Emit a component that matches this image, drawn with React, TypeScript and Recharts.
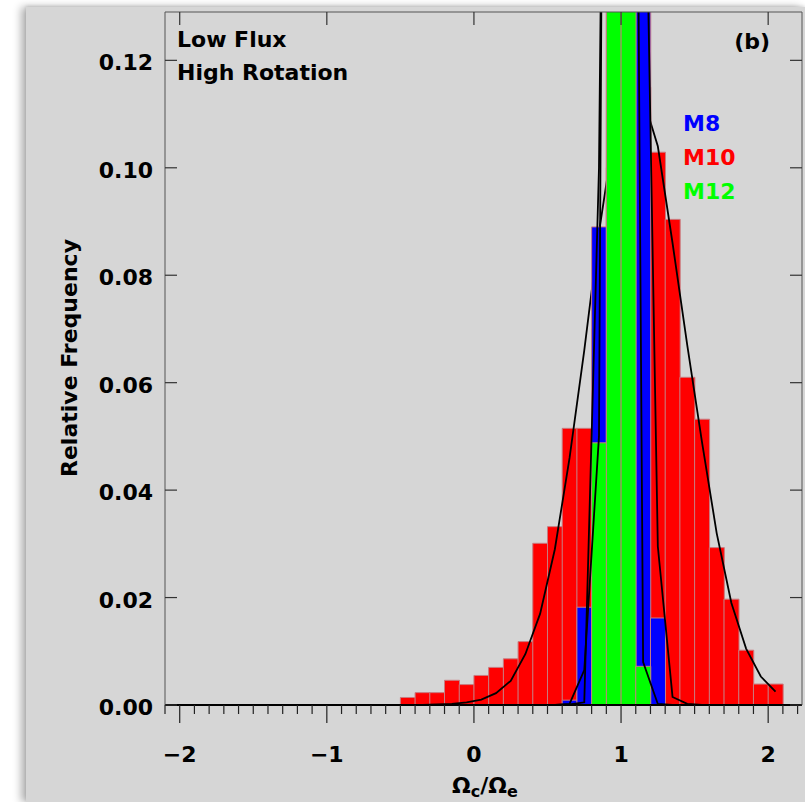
import React from "react";
import { ComposedChart, Bar, Line, XAxis, YAxis } from "recharts";

const W = 805;
const H = 802;
const FONT = "'DejaVu Sans', Verdana, sans-serif";
const EDGE = "#c87c80";

// histogram bins (0.1 wide), given by their centres
const BINS = [
  -0.45, -0.35, -0.25, -0.15, -0.05, 0.05, 0.15, 0.25, 0.35, 0.45, 0.55, 0.65, 0.75,
  0.85, 0.95, 1.05, 1.15, 1.25, 1.35, 1.45, 1.55, 1.65, 1.75, 1.85, 1.95, 2.05,
];

// relative frequencies; bins hidden behind the taller bars are guesses
const M10 = [
  0.0014, 0.0023, 0.0023, 0.0046, 0.0038, 0.0055, 0.007, 0.0086, 0.0118, 0.0301, 0.0332, 0.0515, 0.0515,
  0.07, 0.1, 0.115, 0.115, 0.1029, 0.0904, 0.061, 0.0532, 0.0293, 0.0197, 0.0102, 0.0039, 0.0039,
];
const M8 = [
  null, null, null, null, null, null, null, null, null, null, null, 0.0009, 0.0182,
  0.089, 0.3, 0.3, 0.25, 0.0162, null, null, null, null, null, null, null, null,
];
const M12 = [
  null, null, null, null, null, null, null, null, null, null, null, null, null,
  0.0488, 0.42, 0.4, 0.0072, null, null, null, null, null, null, null, null, null,
];

// fitted curves, sampled at the bin centres
const FIT10 = [
  0, 0, 0.0001, 0.0002, 0.0005, 0.001, 0.0022, 0.0045, 0.0095, 0.017, 0.029, 0.046, 0.066,
  0.088, 0.106, 0.114, 0.113, 0.104, 0.086, 0.067, 0.049, 0.032, 0.019, 0.0105, 0.0053, 0.0025,
];
const FIT8 = [
  null, null, null, null, null, null, null, null, null, null, 0, 0.0001, 0.0005,
  0.1, 0.37, 0.4, 0.185, 0.0295, 0.0015, 0.0002, 0, null, null, null, null, null,
];
const FIT12 = [
  null, null, null, null, null, null, null, null, null, null, 0, 0.0002, 0.0065,
  0.05, 0.55, 0.4, 0.008, 0.0002, 0, null, null, null, null, null, null, null,
];

const SERIES = [
  { name: "M8", color: "#0000ff" },
  { name: "M10", color: "#ff0000" },
  { name: "M12", color: "#00ff00" },
];

const X_DOMAIN: [number, number] = [-2.1, 2.23];
const Y_DOMAIN: [number, number] = [0, 0.129];
const X_MAJOR = [-2, -1, 0, 1, 2];
const X_MINOR = Array.from({ length: 44 }, (_, i) => Math.round(-21 + i) / 10);
const Y_TICKS = [0, 0.02, 0.04, 0.06, 0.08, 0.1, 0.12];

const TXT = { fontFamily: FONT, fontWeight: "bold" as const, fontSize: 22, fill: "#000" };

function BottomTick({ x, y, payload }: any) {
  const v = payload.value;
  const major = X_MAJOR.some((m) => Math.abs(m - v) < 1e-6);
  return (
    <g>
      <line x1={x} x2={x} y1={y} y2={y + (major ? 18 : 9)} stroke="#222" strokeWidth={1.2} />
      {major && (
        <text x={x} y={y + 57} textAnchor="middle" {...TXT}>
          {v < 0 ? `\u2212${-v}` : String(Math.round(v))}
        </text>
      )}
    </g>
  );
}

function TopTick({ x, y }: any) {
  return <line x1={x} x2={x} y1={y} y2={y + 13} stroke="#333" strokeWidth={1.2} />;
}

function LeftTick({ x, y, payload }: any) {
  return (
    <g>
      <line x1={x} x2={x + 12} y1={y} y2={y} stroke="#333" strokeWidth={1.2} />
      <text x={x - 12} y={y + 10} textAnchor="end" {...TXT}>
        {Number(payload.value).toFixed(2)}
      </text>
    </g>
  );
}

function RightTick({ x, y }: any) {
  return <line x1={x} x2={x - 12} y1={y} y2={y} stroke="#333" strokeWidth={1.2} />;
}

const hiddenX = {
  hide: true,
  type: "number" as const,
  dataKey: "x",
  domain: X_DOMAIN,
  allowDataOverflow: true,
};

export default function App() {
  const data = BINS.map((x, i) => ({
    x, m10: M10[i], m8: M8[i], m12: M12[i], f10: FIT10[i], f8: FIT8[i], f12: FIT12[i],
  }));

  return (
    <div style={{ position: "absolute", left: 0, top: 0, width: W, height: H, background: "#fff", overflow: "hidden" }}>
      <div
        style={{
          position: "absolute", left: 26, top: 7, width: W - 26, height: H - 7,
          background: "#d6d6d6",
          boxShadow: "-5px 0 8px rgba(0,0,0,0.3), 0 -1px 3px rgba(0,0,0,0.12)",
        }}
      />
      <div style={{ position: "absolute", left: 0, top: 0 }}>
        <ComposedChart
          width={W} height={H} data={data}
          margin={{ top: 0, right: 0, bottom: 0, left: 0 }}
          barCategoryGap={0} barGap={0}
        >
          <XAxis
            dataKey="x" type="number" domain={X_DOMAIN} allowDataOverflow
            ticks={X_MINOR} interval={0} height={97}
            axisLine={{ stroke: "#000", strokeWidth: 2 }}
            tickLine={false} tickSize={0} tickMargin={0} tick={BottomTick}
          />
          {/* top frame axis, also carries the fitted curves */}
          <XAxis
            xAxisId="top" orientation="top" dataKey="x" type="number" domain={X_DOMAIN} allowDataOverflow
            ticks={X_MAJOR} interval={0} height={12}
            axisLine={{ stroke: "#555" }} tickLine={false} tickSize={0} tickMargin={0} tick={TopTick}
          />
          <XAxis xAxisId="b" {...hiddenX} />
          <XAxis xAxisId="g" {...hiddenX} />
          <YAxis
            type="number" domain={Y_DOMAIN} allowDataOverflow ticks={Y_TICKS} interval={0} width={165}
            axisLine={{ stroke: "#555" }} tickLine={false} tickSize={0} tickMargin={0} tick={LeftTick}
          />
          <YAxis
            yAxisId="r" orientation="right" type="number" domain={Y_DOMAIN} allowDataOverflow
            ticks={Y_TICKS} interval={0} width={3}
            axisLine={{ stroke: "#555" }} tickLine={false} tickSize={0} tickMargin={0} tick={RightTick}
          />

          <Bar dataKey="m10" name="M10" fill="#ff0000" stroke={EDGE} strokeWidth={1}
            isAnimationActive={false} zIndex={300} />
          <Line xAxisId="top" dataKey="f10" type="linear" stroke="#000" strokeWidth={1.8}
            dot={false} activeDot={false} isAnimationActive={false} zIndex={301} />
          <Bar xAxisId="b" dataKey="m8" name="M8" fill="#0000ff" stroke={EDGE} strokeWidth={1}
            isAnimationActive={false} zIndex={302} />
          <Bar xAxisId="g" dataKey="m12" name="M12" fill="#00ff00" stroke={EDGE} strokeWidth={1}
            isAnimationActive={false} zIndex={303} />
          <Line xAxisId="top" dataKey="f8" type="linear" stroke="#000" strokeWidth={1.8}
            dot={false} activeDot={false} isAnimationActive={false} zIndex={400} />
          <Line xAxisId="top" dataKey="f12" type="linear" stroke="#000" strokeWidth={1.8}
            dot={false} activeDot={false} isAnimationActive={false} zIndex={401} />
        </ComposedChart>
      </div>

      <svg width={W} height={H} style={{ position: "absolute", left: 0, top: 0, pointerEvents: "none" }}>
        <text x={177} y={47} {...TXT}>Low Flux</text>
        <text x={177} y={80} {...TXT}>High Rotation</text>
        <text x={770} y={49} textAnchor="end" {...TXT}>(b)</text>
        {SERIES.map((s, i) => (
          <text key={s.name} x={683} y={131 + i * 34} {...TXT} fill={s.color}>{s.name}</text>
        ))}
        <text x={77} y={358} textAnchor="middle" transform="rotate(-90 77 358)" {...TXT}>
          Relative Frequency
        </text>
        <text x={485} y={793} textAnchor="middle" {...TXT}>
          Ω<tspan fontSize={16} dy={4}>c</tspan>
          <tspan dy={-4}>/Ω</tspan>
          <tspan fontSize={16} dy={4}>e</tspan>
        </text>
      </svg>
    </div>
  );
}
